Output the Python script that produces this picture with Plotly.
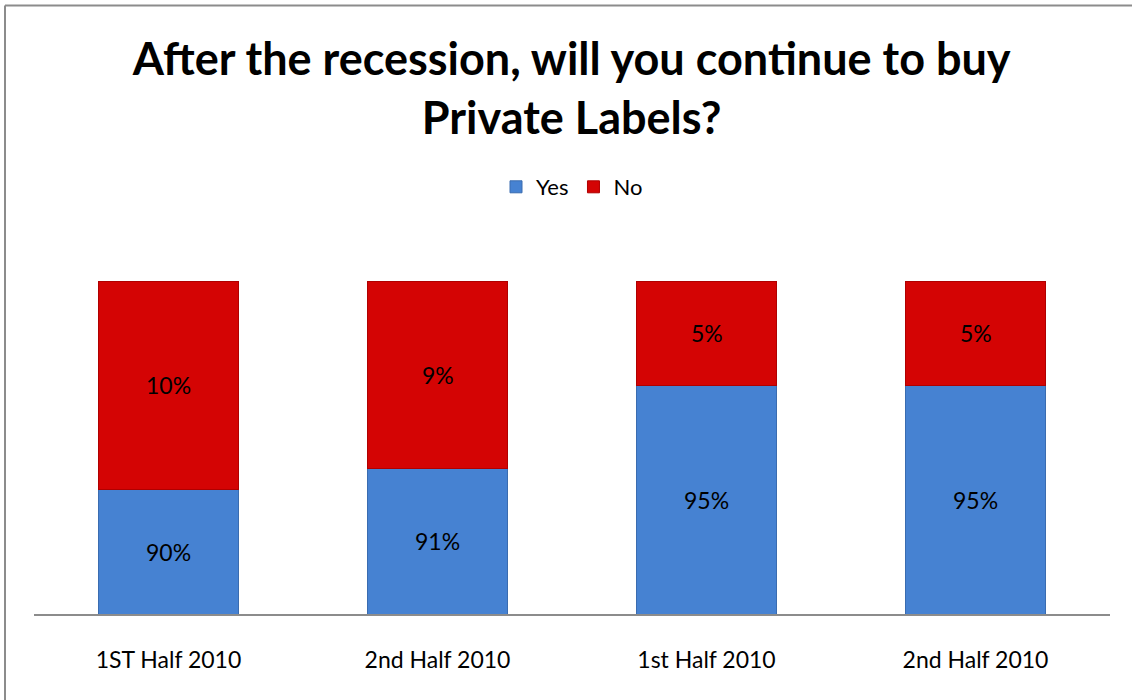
import plotly.graph_objects as go

# Survey results: share of respondents who will keep buying private labels
periods = ["1ST Half 2010", "2nd Half 2010", "1st Half 2010", "2nd Half 2010"]
yes_pct = [90, 91, 95, 95]
no_pct = [10, 9, 5, 5]

AXIS_MIN = 84
AXIS_MAX = 100
FONT = "Lato"

x_pos = list(range(len(periods)))

fig = go.Figure()
fig.add_trace(go.Bar(
    name="Yes", x=x_pos, y=yes_pct, width=0.52,
    marker=dict(color="#4682D2", line=dict(color="#3A6CB0", width=1)),
    hoverinfo="skip",
))
fig.add_trace(go.Bar(
    name="No", x=x_pos, y=no_pct, width=0.52,
    marker=dict(color="#D40404", line=dict(color="#B00000", width=1)),
    hoverinfo="skip",
))

# value labels centred in the visible part of each segment
for xi, y_v, n_v in zip(x_pos, yes_pct, no_pct):
    fig.add_annotation(x=xi, y=(AXIS_MIN + y_v) / 2, text=f"{y_v}%",
                       showarrow=False, font=dict(size=23, color="#000000", family=FONT))
    fig.add_annotation(x=xi, y=y_v + n_v / 2, text=f"{n_v}%",
                       showarrow=False, font=dict(size=23, color="#000000", family=FONT))

# chart-area border (top and left edges visible)
plot_w = 1132 - 34 - 22
plot_h = 333
def px_x(p):
    return (p - 34) / plot_w
def px_y(p):
    return (614 - p) / plot_h
border = dict(color="#8C8C8C", width=2)
fig.add_shape(type="line", xref="paper", yref="paper",
              x0=px_x(5), x1=px_x(1145), y0=px_y(5.5), y1=px_y(5.5), line=border)
fig.add_shape(type="line", xref="paper", yref="paper",
              x0=px_x(5), x1=px_x(5), y0=px_y(5.5), y1=px_y(720), line=border)

fig.update_layout(
    width=1132, height=700,
    barmode="stack",
    paper_bgcolor="white", plot_bgcolor="white",
    margin=dict(l=34, r=22, t=281, b=86),
    font=dict(family=FONT, color="#000000"),
    title=dict(
        text="<b>After the recession, will you continue to buy<br>Private Labels?</b>",
        x=0.505, xanchor="center", y=1 - 75 / 700, yanchor="middle",
        font=dict(size=45, family=FONT, color="#000000"),
    ),
    legend=dict(
        orientation="h", x=0.5, xanchor="center",
        y=px_y(187), yanchor="middle",
        font=dict(size=22, family=FONT), itemwidth=30, traceorder="normal",
        bgcolor="rgba(0,0,0,0)",
    ),
    xaxis=dict(
        tickmode="array", tickvals=x_pos, ticktext=periods,
        range=[-0.5, len(periods) - 0.5],
        showline=True, linecolor="#8C8C8C", linewidth=2,
        showgrid=False, zeroline=False, ticks="",
        tickfont=dict(size=23, family=FONT), ticklabelstandoff=24,
    ),
    yaxis=dict(
        range=[AXIS_MIN, AXIS_MAX], visible=False,
        showgrid=False, zeroline=False,
    ),
    showlegend=True,
)

fig.write_html("out.html")
